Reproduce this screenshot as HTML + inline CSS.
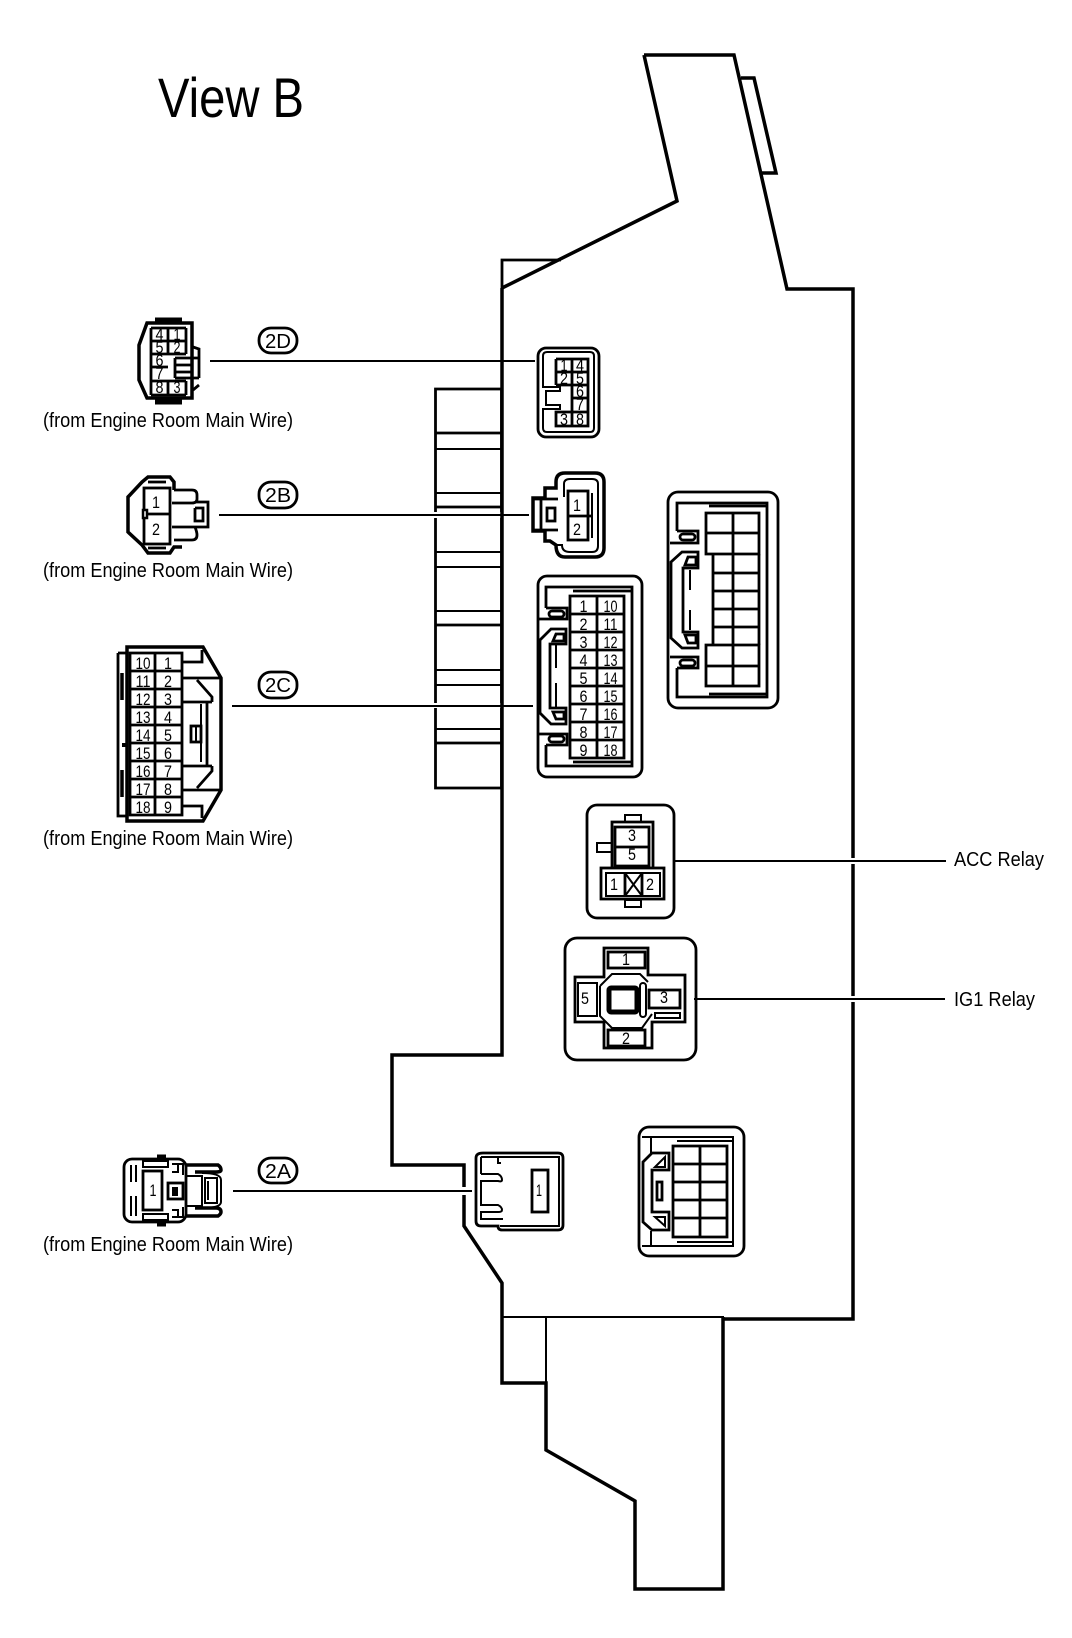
<!DOCTYPE html>
<html><head><meta charset="utf-8"><title>View B</title>
<style>
html,body{margin:0;padding:0;background:#fff}
svg{display:block}
text{font-family:"Liberation Sans",sans-serif;fill:#000;stroke:none}
.d{font-size:17px;text-anchor:middle}
.l{font-size:20px}
.b{font-size:20px;text-anchor:middle}
path,rect,line,circle{fill:none;stroke:#000;stroke-width:2.500}
.t{stroke-width:3.500}
.m{stroke-width:2.800}
.h{stroke-width:2}
.k{stroke-width:5}
</style></head><body>
<svg width="1072" height="1638" viewBox="0 0 1072 1638" xmlns="http://www.w3.org/2000/svg">
<text x="158" y="117" font-size="56" textLength="146" lengthAdjust="spacingAndGlyphs">View B</text>

<!-- housing outline -->
<path class="t" d="M644 55H734L787 289H853V1319H724"/>
<path class="t" d="M644 55L677 201L502 288"/>
<path class="m" d="M502 288V260H561"/>
<path class="t" d="M502 288V1055H392V1165H464V1226L502 1283V1383H546V1450L635 1501V1589H723V1317"/>
<path class="h" d="M502 1317H724M546 1317V1383"/>
<path class="t" d="M741 78H754L776 173H761"/>

<!-- fuse strip -->
<path class="m" d="M435.500 512V389H501.500V512M435.500 518V703M501.500 518V703M435.500 708V788H501.500V708"/>
<path class="m" d="M436 433H501M436 507H501M436 625H501M436 743H501"/>
<path class="h" d="M436 449H501M436 493H501M436 552H501M436 567H501M436 611H501M436 670H501M436 685H501M436 729H501"/>

<!-- leaders -->
<rect x="851" y="858" width="4" height="6" style="fill:#fff;stroke:none"/>
<rect x="851" y="996" width="4" height="6" style="fill:#fff;stroke:none"/>
<rect x="462" y="1187" width="4" height="8" style="fill:#fff;stroke:none"/>
<path class="h" d="M210 361H535M219 515H529M232 706H533M233 1191H472M673 861H946M694 999H945"/>

<!-- badges -->
<rect class="m" x="259" y="328" width="38" height="25" rx="12"/><text class="b" x="278" y="348" textLength="26" lengthAdjust="spacingAndGlyphs">2D</text>
<rect class="m" x="259" y="482" width="38" height="26" rx="12"/><text class="b" x="278" y="502" textLength="26" lengthAdjust="spacingAndGlyphs">2B</text>
<rect class="m" x="259" y="672" width="38" height="26" rx="12"/><text class="b" x="278" y="692" textLength="26" lengthAdjust="spacingAndGlyphs">2C</text>
<rect class="m" x="259" y="1158" width="38" height="25" rx="12"/><text class="b" x="278" y="1178" textLength="26" lengthAdjust="spacingAndGlyphs">2A</text>

<!-- labels -->
<text class="l" x="43" y="427" textLength="250" lengthAdjust="spacingAndGlyphs">(from Engine Room Main Wire)</text>
<text class="l" x="43" y="577" textLength="250" lengthAdjust="spacingAndGlyphs">(from Engine Room Main Wire)</text>
<text class="l" x="43" y="845" textLength="250" lengthAdjust="spacingAndGlyphs">(from Engine Room Main Wire)</text>
<text class="l" x="43" y="1251" textLength="250" lengthAdjust="spacingAndGlyphs">(from Engine Room Main Wire)</text>
<text class="l" x="954" y="866" textLength="90" lengthAdjust="spacingAndGlyphs">ACC Relay</text>
<text class="l" x="954" y="1006" textLength="81" lengthAdjust="spacingAndGlyphs">IG1 Relay</text>

<!-- 2D left -->
<path class="t" d="M147 323H192V398H147L139 380V345Z"/>
<path class="k" d="M155 320H182M155 402H182"/>
<path class="m" d="M151 328H186M151 395H186M151 328V395M168 328V354M168 381V395M151 341H186M151 354H186M151 367H168M151 381H186M186 328V354M186 381V395"/>
<path class="m" d="M193 347L199 349V378M199 385L193 390M175 358H199M175 378H199M175 358V378M175 365H192M175 372H192"/>
<text class="d" x="159.500" y="340" textLength="8" lengthAdjust="spacingAndGlyphs">4</text><text class="d" x="177" y="340" textLength="7" lengthAdjust="spacingAndGlyphs">1</text>
<text class="d" x="159.500" y="353" textLength="8" lengthAdjust="spacingAndGlyphs">5</text><text class="d" x="177" y="353" textLength="7" lengthAdjust="spacingAndGlyphs">2</text>
<text class="d" x="159.500" y="366" textLength="8" lengthAdjust="spacingAndGlyphs">6</text>
<text class="d" x="159.500" y="379" textLength="8" lengthAdjust="spacingAndGlyphs">7</text>
<text class="d" x="159.500" y="393" textLength="8" lengthAdjust="spacingAndGlyphs">8</text><text class="d" x="177" y="393" textLength="7" lengthAdjust="spacingAndGlyphs">3</text>

<!-- 2B left -->
<path class="t" d="M174 490V482L170 477H148L142 482L128 497V532L142 545L148 553H170L174 547H182"/>
<path class="m" d="M148 482H166M148 548H166"/>
<rect class="m" x="144" y="488" width="26" height="56"/>
<path class="m" d="M144 514H170"/>
<rect x="143" y="510" width="4" height="8" style="fill:#fff"/>
<path class="m" d="M174 490H192Q197 490 197 495V499Q197 503 192 503H172M195 502H208V527H195M195 508H203V521H195V508M172 527H195Q197 532 197 535Q197 540 192 540H174"/>
<text class="d" x="156" y="508" textLength="8" lengthAdjust="spacingAndGlyphs">1</text>
<text class="d" x="156" y="535" textLength="8" lengthAdjust="spacingAndGlyphs">2</text>

<!-- 2C left -->
<path class="t" d="M127 647H203L221 678V790L203 821H127Z"/>
<path class="m" d="M118 653V816H127M118 653H127"/>
<path class="t" d="M122 673V700M122 770V797"/>
<rect x="122" y="743" width="4" height="4" style="fill:#000;stroke:none"/>
<path class="m" d="M130 653H182V815H130ZM155 653V815M130 671H182M130 689H182M130 707H182M130 725H182M130 743H182M130 761H182M130 779H182M130 797H182"/>
<path class="m" d="M182 662H202V650M182 806H202V818M182 678H221M182 790H221M197 680L212 697V702M197 788L212 771V766M182 702H212M182 766H212M207 702V766"/>
<path class="h" d="M201 704V762"/>
<rect class="m" x="191" y="726" width="10" height="16"/>
<path class="h" d="M196 726V742"/>
<text class="d" x="143" y="669" textLength="15" lengthAdjust="spacingAndGlyphs">10</text><text class="d" x="168" y="669" textLength="8" lengthAdjust="spacingAndGlyphs">1</text>
<text class="d" x="143" y="687" textLength="15" lengthAdjust="spacingAndGlyphs">11</text><text class="d" x="168" y="687" textLength="8" lengthAdjust="spacingAndGlyphs">2</text>
<text class="d" x="143" y="705" textLength="15" lengthAdjust="spacingAndGlyphs">12</text><text class="d" x="168" y="705" textLength="8" lengthAdjust="spacingAndGlyphs">3</text>
<text class="d" x="143" y="723" textLength="15" lengthAdjust="spacingAndGlyphs">13</text><text class="d" x="168" y="723" textLength="8" lengthAdjust="spacingAndGlyphs">4</text>
<text class="d" x="143" y="741" textLength="15" lengthAdjust="spacingAndGlyphs">14</text><text class="d" x="168" y="741" textLength="8" lengthAdjust="spacingAndGlyphs">5</text>
<text class="d" x="143" y="759" textLength="15" lengthAdjust="spacingAndGlyphs">15</text><text class="d" x="168" y="759" textLength="8" lengthAdjust="spacingAndGlyphs">6</text>
<text class="d" x="143" y="777" textLength="15" lengthAdjust="spacingAndGlyphs">16</text><text class="d" x="168" y="777" textLength="8" lengthAdjust="spacingAndGlyphs">7</text>
<text class="d" x="143" y="795" textLength="15" lengthAdjust="spacingAndGlyphs">17</text><text class="d" x="168" y="795" textLength="8" lengthAdjust="spacingAndGlyphs">8</text>
<text class="d" x="143" y="813" textLength="15" lengthAdjust="spacingAndGlyphs">18</text><text class="d" x="168" y="813" textLength="8" lengthAdjust="spacingAndGlyphs">9</text>

<!-- 2D right -->
<rect class="m" x="538" y="348" width="61" height="89" rx="8"/>
<path class="h" d="M543 387V356Q543 352 547 352H590Q594 352 594 356V428Q594 432 590 432H547Q543 432 543 428V409H560V405H546V391H560V387H543Z"/>
<path class="m" d="M556 359H588V426H556V412H588M556 359V385M572 359V426M556 372H588M556 385H588M572 398H588"/>
<text class="d" x="564" y="371" textLength="7" lengthAdjust="spacingAndGlyphs">1</text><text class="d" x="580" y="371" textLength="8" lengthAdjust="spacingAndGlyphs">4</text>
<text class="d" x="564" y="384" textLength="8" lengthAdjust="spacingAndGlyphs">2</text><text class="d" x="580" y="384" textLength="8" lengthAdjust="spacingAndGlyphs">5</text>
<text class="d" x="580" y="397" textLength="8" lengthAdjust="spacingAndGlyphs">6</text>
<text class="d" x="580" y="410" textLength="8" lengthAdjust="spacingAndGlyphs">7</text>
<text class="d" x="564" y="425" textLength="8" lengthAdjust="spacingAndGlyphs">3</text><text class="d" x="580" y="425" textLength="8" lengthAdjust="spacingAndGlyphs">8</text>

<!-- 2B right -->
<path class="t" d="M604 482Q604 473 595 473H565Q556 473 556 482V488H545V498H533V531H545V541H550L556 545Q556 557 565 557H595Q604 557 604 548Z"/>
<path class="h" d="M564 497V484Q564 479 570 479H592Q598 479 598 484V546Q598 552 592 552H570Q562 552 562 545H557M592 493V538"/>
<rect class="m" x="568" y="491" width="20" height="49"/>
<path class="m" d="M568 516H592M533 499H558M533 530H558M541 499V530"/>
<rect class="m" x="547" y="508" width="8" height="13"/>
<text class="d" x="577" y="511" textLength="8" lengthAdjust="spacingAndGlyphs">1</text>
<text class="d" x="577" y="535" textLength="8" lengthAdjust="spacingAndGlyphs">2</text>

<!-- 2C right -->
<rect class="m" x="538" y="576" width="104" height="201" rx="9"/>
<path class="m" d="M546 608V587H632V766H546V745M573 591H632M573 762H632"/>
<path class="m" d="M546 608H567V619H538M538 734H567V745H546"/>
<rect class="m" x="549" y="611" width="15" height="6" rx="3"/>
<rect class="m" x="549" y="736" width="15" height="6" rx="3"/>
<path class="m" d="M551 629H566V644H550V708H566V724H551L540 713V640Z"/>
<path class="m" d="M553 641L556 634H564V641ZM553 712L556 719H564V712Z"/>
<path class="h" d="M556 645V668M556 683V708"/>
<path class="m" d="M570 596H624V758H570ZM597 596V758M570 614H624M570 632H624M570 650H624M570 668H624M570 686H624M570 704H624M570 722H624M570 740H624"/>
<text class="d" x="583.500" y="612" textLength="8" lengthAdjust="spacingAndGlyphs">1</text><text class="d" x="610.500" y="612" textLength="14" lengthAdjust="spacingAndGlyphs">10</text>
<text class="d" x="583.500" y="630" textLength="8" lengthAdjust="spacingAndGlyphs">2</text><text class="d" x="610.500" y="630" textLength="14" lengthAdjust="spacingAndGlyphs">11</text>
<text class="d" x="583.500" y="648" textLength="8" lengthAdjust="spacingAndGlyphs">3</text><text class="d" x="610.500" y="648" textLength="14" lengthAdjust="spacingAndGlyphs">12</text>
<text class="d" x="583.500" y="666" textLength="8" lengthAdjust="spacingAndGlyphs">4</text><text class="d" x="610.500" y="666" textLength="14" lengthAdjust="spacingAndGlyphs">13</text>
<text class="d" x="583.500" y="684" textLength="8" lengthAdjust="spacingAndGlyphs">5</text><text class="d" x="610.500" y="684" textLength="14" lengthAdjust="spacingAndGlyphs">14</text>
<text class="d" x="583.500" y="702" textLength="8" lengthAdjust="spacingAndGlyphs">6</text><text class="d" x="610.500" y="702" textLength="14" lengthAdjust="spacingAndGlyphs">15</text>
<text class="d" x="583.500" y="720" textLength="8" lengthAdjust="spacingAndGlyphs">7</text><text class="d" x="610.500" y="720" textLength="14" lengthAdjust="spacingAndGlyphs">16</text>
<text class="d" x="583.500" y="738" textLength="8" lengthAdjust="spacingAndGlyphs">8</text><text class="d" x="610.500" y="738" textLength="14" lengthAdjust="spacingAndGlyphs">17</text>
<text class="d" x="583.500" y="756" textLength="8" lengthAdjust="spacingAndGlyphs">9</text><text class="d" x="610.500" y="756" textLength="14" lengthAdjust="spacingAndGlyphs">18</text>

<!-- unlabeled upper right connector -->
<rect class="m" x="668" y="492" width="110" height="216" rx="10"/>
<path class="m" d="M677 531V503H767V697H677V668M709 506H767M709 694H767"/>
<path class="m" d="M677 531H698V543H670M670 657H698V668H677"/>
<rect class="m" x="680" y="534" width="15" height="6" rx="3"/>
<rect class="m" x="680" y="660" width="15" height="6" rx="3"/>
<path class="m" d="M682 552H698V568H683V632H698V648H682L671 638V562Z"/>
<path class="m" d="M685 565L688 557H696V565ZM685 635L688 643H696V635Z"/>
<path class="h" d="M690 570V590M690 610V630"/>
<path class="m" d="M706 513H759V554H706ZM733 513V645M706 533H759M706 645H759V686H706ZM733 645V686M706 666H759"/>
<path class="m" d="M713 554V645M759 554V645M713 573H759M713 591H759M713 609H759M713 627H759"/>

<!-- ACC relay -->
<rect class="m" x="587" y="805" width="87" height="113" rx="10"/>
<rect class="h" x="625" y="815" width="16" height="7"/>
<rect class="h" x="597" y="843" width="15" height="9"/>
<rect class="h" x="625" y="900" width="16" height="7"/>
<path class="m" d="M612 867V822H653V867"/>
<path class="m" d="M615 827H649V866H615ZM615 847H649"/>
<rect class="m" x="601" y="868" width="63" height="31"/>
<rect class="h" x="606" y="873" width="54" height="23"/>
<path class="m" d="M625 873V896M642 873V896"/>
<path class="h" d="M625 873L642 896M642 873L625 896"/>
<text class="d" x="632" y="841" textLength="8" lengthAdjust="spacingAndGlyphs">3</text>
<text class="d" x="632" y="860" textLength="8" lengthAdjust="spacingAndGlyphs">5</text>
<text class="d" x="614" y="890" textLength="8" lengthAdjust="spacingAndGlyphs">1</text>
<text class="d" x="650" y="890" textLength="8" lengthAdjust="spacingAndGlyphs">2</text>

<!-- IG1 relay -->
<rect class="m" x="565" y="938" width="131" height="122" rx="12"/>
<path class="m" d="M604 948H648V975H685V1022H652V1048H604V1022H575V977H604Z"/>
<rect class="m" x="608" y="952" width="37" height="16"/>
<rect class="m" x="608" y="1030" width="37" height="16"/>
<rect class="h" x="578" y="983" width="19" height="33"/>
<rect class="m" x="649" y="990" width="31" height="18" style="fill:#fff"/>
<rect class="h" x="655" y="1013" width="25" height="5"/>
<path class="h" d="M600 986L612 974H640L648 982M652 1014L642 1028H612L600 1016V986"/>
<rect class="k" x="609" y="988" width="28" height="24" rx="2" style="fill:#fff"/>
<rect class="h" x="640" y="983" width="6" height="34" rx="3"/>
<text class="d" x="626" y="965" textLength="8" lengthAdjust="spacingAndGlyphs">1</text>
<text class="d" x="626" y="1044" textLength="8" lengthAdjust="spacingAndGlyphs">2</text>
<text class="d" x="585" y="1004" textLength="8" lengthAdjust="spacingAndGlyphs">5</text>
<text class="d" x="664" y="1003" textLength="8" lengthAdjust="spacingAndGlyphs">3</text>

<!-- 2A left -->
<rect class="m" x="124" y="1159" width="62" height="63" rx="8"/>
<path class="k" d="M157 1157H166M157 1224H166"/>
<path class="h" d="M131 1165V1182M131 1196V1216M136 1165V1182M136 1196V1216"/>
<rect class="m" x="143" y="1171" width="19" height="39"/>
<rect class="h" x="143" y="1161" width="25" height="6"/>
<rect class="h" x="143" y="1214" width="25" height="6"/>
<rect class="m" x="168" y="1183" width="15" height="16"/>
<rect x="172" y="1187" width="6" height="9" style="fill:#000;stroke:none"/>
<path class="h" d="M172 1164H183V1175M172 1172H178V1164M172 1217H183V1207M172 1210H178V1217"/>
<path class="t" d="M186 1165H218Q221 1167 221 1170Q221 1172 216 1172H195M186 1216H218Q221 1214 221 1212Q221 1208 216 1208H195"/>
<path class="h" d="M186 1176H202V1206H186M202 1173Q221 1173 221 1180V1202Q221 1208 202 1208M205 1178H217V1203H205ZM208 1181V1200"/>
<text class="d" x="153" y="1196" textLength="7" lengthAdjust="spacingAndGlyphs">1</text>

<!-- 2A right -->
<path class="m" d="M483 1153H558Q563 1153 563 1158V1225Q563 1230 558 1230H502Q498 1230 498 1226H481Q476 1226 476 1221V1158Q476 1153 483 1153Z"/>
<path class="h" d="M500 1226H559V1157H499"/>
<path class="h" d="M481 1157H498V1163H501M481 1157V1174M481 1174H498Q502 1176 502 1180Q502 1182 498 1181H481V1205H498Q502 1207 502 1210Q502 1212 498 1212H481V1219H503"/>
<rect class="m" x="532" y="1170" width="16" height="42"/>
<text class="d" x="539" y="1196" textLength="6" lengthAdjust="spacingAndGlyphs">1</text>

<!-- lower right connector -->
<rect class="m" x="639" y="1127" width="105" height="129" rx="10"/>
<path class="h" d="M642 1137H733V1246H642M677 1141H733M677 1242H733M651 1137V1153M651 1231V1246"/>
<path class="m" d="M643 1162L652 1153H669V1170H652V1212H669V1230H652L643 1222Z"/>
<path class="h" d="M655 1167L665 1157V1167ZM655 1217L665 1226V1217Z"/>
<rect class="m" x="657" y="1182" width="5" height="18"/>
<path class="m" d="M673 1146H727V1237H673ZM700 1146V1237M673 1164H727M673 1182H727M673 1200H727M673 1218H727"/>
</svg>
</body></html>
